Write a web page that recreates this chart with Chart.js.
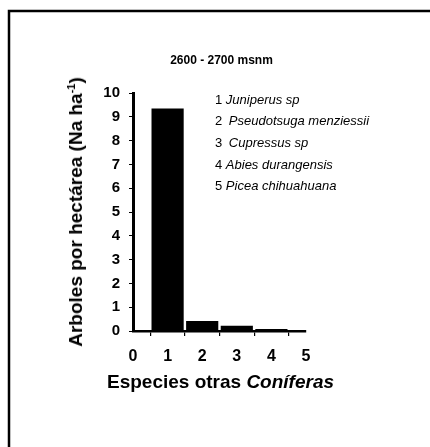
<!DOCTYPE html>
<html>
<head>
<meta charset="utf-8">
<script src="https://cdn.jsdelivr.net/npm/chart.js@4.4.1/dist/chart.umd.min.js"></script>
<style>
  html, body { margin: 0; padding: 0; background: #fff; }
  #wrap { position: relative; width: 430px; height: 447px; }
  canvas { display: block; position: absolute; left: 0; top: 0; }
  #ytitle {
    position: absolute; left: 76px; top: 212px;
    transform: translate(-50%, -50%) rotate(-90deg);
    white-space: nowrap;
    font: bold 19px 'Liberation Sans', Arial, sans-serif;
    color: #000;
  }
  #ytitle sup { font-size: 11px; vertical-align: 7px; line-height: 0; }
</style>
</head>
<body>
<div id="wrap">
<canvas id="c" width="430" height="447"></canvas>
<div id="ytitle"></div>
</div>
<script>
// ---- data ----
const speciesIds = [1, 2, 3, 4, 5];
const speciesNames = ["Juniperus sp", "Pseudotsuga menziessii", "Cupressus sp", "Abies durangensis", "Picea chihuahuana"];
const treesPerHa = [9.35, 0.42, 0.22, 0.08, 0.04];
const chartTitle = "2600 - 2700 msnm";
const yTitleMain = "Arboles por hectárea (Na ha";
const yTitleSup = "-1";
const yTitleEnd = ")";
const xTitleMain = "Especies otras ";
const xTitleItalic = "Coníferas";

const FONT = "'Liberation Sans', Arial, Helvetica, sans-serif";

const yt = document.getElementById('ytitle');
yt.appendChild(document.createTextNode(yTitleMain));
const sup = document.createElement('sup'); sup.textContent = yTitleSup; yt.appendChild(sup);
yt.appendChild(document.createTextNode(yTitleEnd));

const framePlugin = {
  id: 'framePlugin',
  beforeDraw(chart) {
    const ctx = chart.ctx;
    ctx.save();
    ctx.fillStyle = '#fff';
    ctx.fillRect(0, 0, chart.width, chart.height);
    ctx.strokeStyle = '#000';
    ctx.lineWidth = 2.5;
    ctx.beginPath();
    ctx.moveTo(9, 447);
    ctx.lineTo(9, 11);
    ctx.lineTo(430, 11);
    ctx.stroke();
    ctx.restore();
  }
};

const textPlugin = {
  id: 'textPlugin',
  afterDraw(chart) {
    const ctx = chart.ctx;
    const a = chart.chartArea;
    const cx = (a.left + a.right) / 2;
    ctx.save();
    ctx.fillStyle = '#000';
    ctx.textBaseline = 'middle';

    ctx.font = "bold 12px " + FONT;
    ctx.textAlign = 'center';
    ctx.fillText(chartTitle, cx + 2, a.top - 32);

    ctx.textAlign = 'left';
    const f1 = "bold 19px " + FONT, f2 = "italic bold 19px " + FONT;
    ctx.font = f1; const w1 = ctx.measureText(xTitleMain).width;
    ctx.font = f2; const w2 = ctx.measureText(xTitleItalic).width;
    const x0 = cx + 1 - (w1 + w2) / 2;
    const xy = a.bottom + 52;
    ctx.font = f1; ctx.fillText(xTitleMain, x0, xy);
    ctx.font = f2; ctx.fillText(xTitleItalic, x0 + w1, xy);

    const lx = a.left + 82;
    speciesIds.forEach((id, i) => {
      const ly = a.top + 7 + i * 21.7;
      ctx.font = "13px " + FONT;
      const num = id + " ";
      ctx.fillText(num, lx, ly);
      const nw = ctx.measureText(num).width;
      ctx.font = "italic 13px " + FONT;
      ctx.fillText(speciesNames[i], lx + nw + (i === 1 || i === 2 ? 3 : 0), ly);
    });
    ctx.restore();
  }
};

new Chart(document.getElementById('c'), {
  type: 'bar',
  data: {
    datasets: [{
      data: speciesIds.map((id, i) => ({ x: id, y: treesPerHa[i] })),
      backgroundColor: '#000',
      borderWidth: 0,
      barPercentage: 0.93,
      categoryPercentage: 1.0
    }]
  },
  options: {
    responsive: false,
    animation: false,
    devicePixelRatio: 1,
    layout: { padding: { left: 93, right: 124, top: 93, bottom: 81 } },
    plugins: { legend: { display: false }, tooltip: { enabled: false }, title: { display: false } },
    scales: {
      x: {
        type: 'linear',
        min: 0, max: 5,
        offset: false,
        afterFit: s => { s.height = 35; },
        ticks: { stepSize: 1, color: '#000', padding: 11, font: { family: FONT, size: 16, weight: 'bold' } },
        grid: { drawOnChartArea: false, tickLength: 5, color: '#000', lineWidth: 1.2 },
        border: { color: '#000', width: 2.5 }
      },
      y: {
        min: 0, max: 10,
        afterFit: s => { s.width = 40; },
        ticks: { stepSize: 1, color: '#000', padding: 9, font: { family: FONT, size: 15, weight: 'bold' } },
        grid: { drawOnChartArea: false, tickLength: 4, color: '#000', lineWidth: 1 },
        border: { color: '#000', width: 3 }
      }
    }
  },
  plugins: [framePlugin, textPlugin]
});
</script>
</body>
</html>
